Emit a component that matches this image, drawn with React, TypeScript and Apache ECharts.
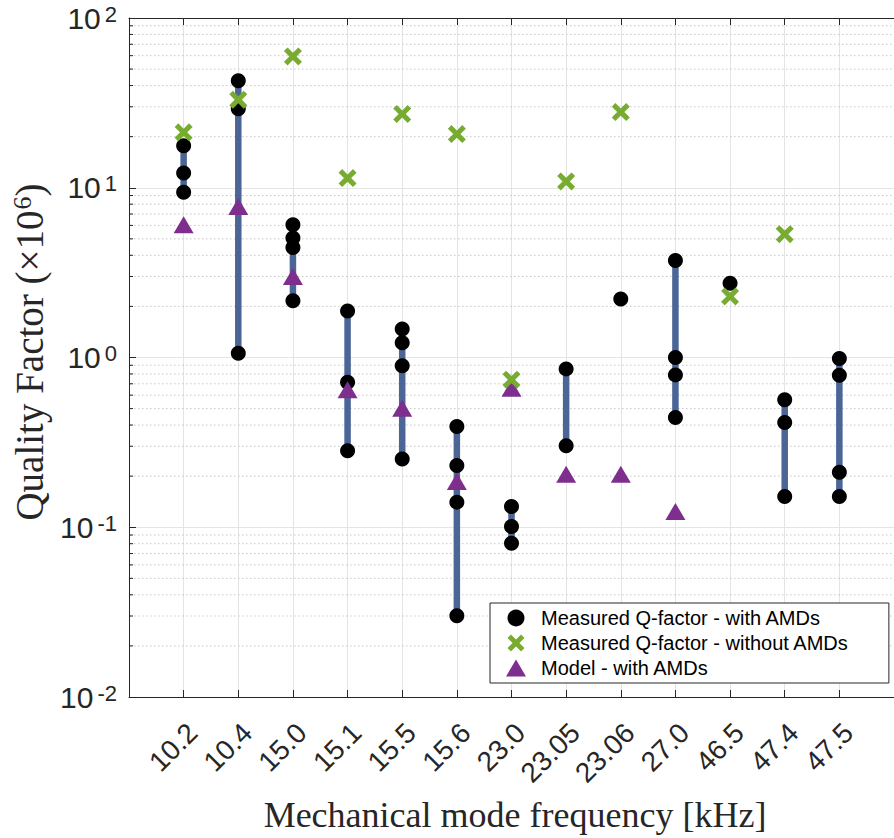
import React, { useEffect, useRef } from 'react';
import * as echarts from 'echarts';

const categories = ['10.2', '10.4', '15.0', '15.1', '15.5', '15.6', '23.0', '23.05', '23.06', '27.0', '46.5', '47.4', '47.5'];

// Quality factor (x10^6), measured with AMDs (several measurements per mode)
const measuredWithAMDs: number[][] = [
  [17.7, 12.2, 9.4],
  [42.7, 29.2, 1.06],
  [6.05, 5.06, 4.45, 2.16],
  [1.88, 0.716, 0.282],
  [1.47, 1.22, 0.893, 0.252],
  [0.392, 0.231, 0.1406, 0.0301],
  [0.1325, 0.1009, 0.0806],
  [0.857, 0.302],
  [2.21],
  [3.73, 1.0, 0.79, 0.443],
  [2.74],
  [0.563, 0.414, 0.152],
  [0.987, 0.785, 0.211, 0.152],
];

const measuredWithoutAMDs: (number | null)[] = [21.2, 33.0, 59.4, 11.4, 27.2, 20.7, 0.74, 10.9, 27.9, null, 2.29, 5.33, null];

const modelWithAMDs: (number | null)[] = [6.05, 7.76, 3.0, 0.645, 0.503, 0.186, 0.66, 0.2055, 0.2055, 0.124, null, null, null];

const minorMultipliers = [2, 3, 4, 5, 6, 7, 8, 9];
const minorDecades = [0.01, 0.1, 1, 10];

const AX = '#262626';
const SANS = 'Liberation Sans, Arial, sans-serif';
const SERIF = 'Liberation Serif, Times New Roman, serif';
const X_SYMBOL = 'path://M0,2L2,0L5,3L8,0L10,2L7,5L10,8L8,10L5,7L2,10L0,8L3,5Z';

export default function App() {
  const ref = useRef<HTMLDivElement>(null);

  useEffect(() => {
    const chart = echarts.init(ref.current!, null, { renderer: 'svg' });

    const xMax = 14;
    const unitPx = (894 - 129 + 10) / xMax;
    const labelShift = 9 / unitPx;

    const circleData: number[][] = [];
    measuredWithAMDs.forEach((vals, i) => vals.forEach((v) => circleData.push([i + 1, v])));
    const stickData = measuredWithAMDs.map((vals, i) => [i + 1, Math.min(...vals), Math.max(...vals)]);
    const withoutData = measuredWithoutAMDs
      .map((v, i) => (v == null ? null : [i + 1, v]))
      .filter((d) => d != null) as number[][];
    const modelData = modelWithAMDs
      .map((v, i) => (v == null ? null : [i + 1, v]))
      .filter((d) => d != null) as number[][];
    const minorData: number[][] = [];
    minorDecades.forEach((d) => minorMultipliers.forEach((m) => minorData.push([0, +(m * d).toPrecision(6)])));

    const option: any = {
      animation: false,
      backgroundColor: '#fff',
      grid: { left: 129, right: -10, top: 18, bottom: 141, containLabel: false },
      xAxis: [
        {
          type: 'value',
          min: 0,
          max: xMax,
          interval: 1,
          position: 'bottom',
          axisLine: { show: true, lineStyle: { color: AX, width: 1 } },
          axisTick: { show: true, inside: true, length: 7, lineStyle: { color: AX } },
          axisLabel: { show: false },
          splitLine: { show: true, lineStyle: { color: '#e4e4e4', width: 1 } },
        },
        {
          type: 'value',
          min: 0,
          max: xMax,
          interval: 1,
          position: 'top',
          axisLine: { show: true, lineStyle: { color: AX, width: 1 } },
          axisTick: { show: true, inside: true, length: 7, lineStyle: { color: AX } },
          axisLabel: { show: false },
          splitLine: { show: false },
        },
        {
          type: 'value',
          min: -labelShift,
          max: xMax - labelShift,
          position: 'bottom',
          axisLine: { show: false },
          axisTick: { show: false },
          splitLine: { show: false },
          axisLabel: {
            show: true,
            customValues: categories.map((_, i) => i + 1),
            formatter: (v: number) => {
              const idx = Math.round(v) - 1;
              return idx >= 0 && idx < categories.length ? categories[idx] : '';
            },
            rotate: 45,
            margin: 31,
            fontSize: 28,
            fontFamily: SANS,
            color: AX,
          },
        },
      ],
      yAxis: [
        {
          type: 'log',
          logBase: 10,
          min: 0.01,
          max: 100,
          axisLine: { show: true, lineStyle: { color: AX, width: 1 } },
          axisTick: { show: true, inside: true, length: 7, lineStyle: { color: AX } },
          splitLine: { show: true, lineStyle: { color: '#e4e4e4', width: 1 } },
          axisLabel: {
            margin: 12,
            color: AX,
            fontFamily: SANS,
            formatter: (v: number) => {
              const e = Math.round(Math.log10(v));
              return `{b|10}{s|${e}}`;
            },
            rich: {
              b: { fontSize: 30, lineHeight: 30, verticalAlign: 'bottom', fontFamily: SANS, color: AX },
              s: { fontSize: 22, lineHeight: 22, verticalAlign: 'top', padding: [0, 0, 16, 4], fontFamily: SANS, color: AX },
            },
          },
        },
      ],
      legend: {
        orient: 'vertical',
        left: 490,
        top: 603,
        padding: [5, 40, 5, 16],
        itemWidth: 20,
        itemHeight: 17,
        itemGap: 5,
        backgroundColor: '#fff',
        borderColor: AX,
        borderWidth: 1,
        borderRadius: 0,
        z: 20,
        textStyle: { fontSize: 20, lineHeight: 20, fontFamily: SANS, color: '#000', padding: [0, 0, 0, 10] },
        data: ['Measured Q-factor - with AMDs', 'Measured Q-factor - without AMDs', 'Model - with AMDs'],
        selectedMode: false,
      },
      graphic: [
        {
          type: 'text',
          x: 515,
          y: 815,
          z: 100,
          style: {
            text: 'Mechanical mode frequency [kHz]',
            fontFamily: SERIF,
            fontSize: 36,
            fill: AX,
            align: 'center',
            verticalAlign: 'middle',
          },
        },
        {
          type: 'text',
          x: 29,
          y: 352,
          rotation: Math.PI / 2,
          z: 100,
          style: {
            text: 'Quality Factor (×10{s|6})',
            fontFamily: SERIF,
            fontSize: 39,
            fill: AX,
            align: 'center',
            verticalAlign: 'middle',
            rich: {
              s: { fontSize: 26, fontFamily: SERIF, fill: AX, verticalAlign: 'top', padding: [0, 0, 14, 1] },
            },
          },
        },
      ],
      series: [
        {
          type: 'custom',
          name: 'minor',
          z: 1,
          silent: true,
          clip: false,
          xAxisIndex: 0,
          yAxisIndex: 0,
          data: minorData,
          encode: { x: 0, y: 1 },
          renderItem: (params: any, api: any) => {
            const v = api.value(1);
            const p0 = api.coord([0, v]);
            const p1 = api.coord([xMax, v]);
            return {
              type: 'group',
              children: [
                {
                  type: 'line',
                  shape: { x1: p0[0] + 1, y1: p0[1], x2: p1[0], y2: p1[1] },
                  style: { stroke: '#c6c6c6', lineWidth: 1, lineDash: [1.5, 2.5] },
                },
                {
                  type: 'line',
                  shape: { x1: p0[0], y1: p0[1], x2: p0[0] + 4, y2: p0[1] },
                  style: { stroke: AX, lineWidth: 1 },
                },
              ],
            };
          },
        },
        {
          type: 'custom',
          name: 'sticks',
          z: 2,
          silent: true,
          xAxisIndex: 0,
          yAxisIndex: 0,
          data: stickData,
          encode: { x: 0, y: [1, 2] },
          renderItem: (params: any, api: any) => {
            const x = api.value(0);
            const a = api.coord([x, api.value(1)]);
            const b = api.coord([x, api.value(2)]);
            return {
              type: 'line',
              shape: { x1: a[0], y1: a[1], x2: b[0], y2: b[1] },
              style: { stroke: '#4a6596', lineWidth: 6.5, lineCap: 'butt' },
            };
          },
        },
        {
          type: 'scatter',
          name: 'Measured Q-factor - with AMDs',
          z: 3,
          xAxisIndex: 0,
          yAxisIndex: 0,
          symbol: 'circle',
          symbolSize: 15,
          itemStyle: { color: '#000', opacity: 1 },
          data: circleData,
        },
        {
          type: 'scatter',
          name: 'Model - with AMDs',
          z: 4,
          xAxisIndex: 0,
          yAxisIndex: 0,
          symbol: 'triangle',
          symbolSize: [20, 17],
          itemStyle: { color: '#7E2F8E', opacity: 1 },
          data: modelData,
        },
        {
          type: 'scatter',
          name: 'Measured Q-factor - without AMDs',
          z: 5,
          xAxisIndex: 0,
          yAxisIndex: 0,
          symbol: X_SYMBOL,
          symbolSize: 18,
          itemStyle: { color: '#77AC30', opacity: 1 },
          data: withoutData,
        },
      ],
    };

    chart.setOption(option);
    return () => chart.dispose();
  }, []);

  return (
    <div
      ref={ref}
      style={{ position: 'absolute', left: 0, top: 0, width: 894, height: 838, background: '#fff' }}
    />
  );
}
